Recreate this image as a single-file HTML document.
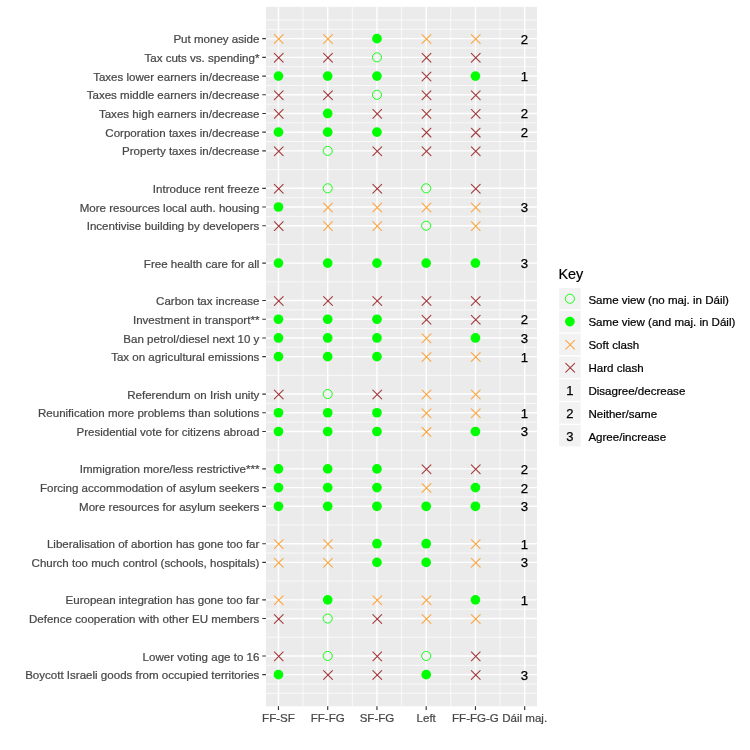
<!DOCTYPE html>
<html lang="en"><head><meta charset="utf-8"><title>Coalition views</title>
<style>html,body{margin:0;padding:0;background:#fff}svg{display:block}text{font-family:"Liberation Sans",Arial,sans-serif}.ax{font-size:11.55px;fill:#474747;stroke:#474747;stroke-width:.22px}.lg{font-size:11.55px;fill:#000;stroke:#000;stroke-width:.22px}.num{font-size:13.2px;fill:#000;stroke:#000;stroke-width:.25px}.ttl{font-size:14.4px;fill:#000;stroke:#000;stroke-width:.2px}</style></head><body>
<svg width="750" height="750" viewBox="0 0 750 750">
<rect width="750" height="750" fill="#fff"/>
<rect x="265.9" y="6.9" width="271.1" height="699.4" fill="#EBEBEB"/>
<path d="M265.9 19.94H537M265.9 29.3H537M265.9 48H537M265.9 66.71H537M265.9 85.41H537M265.9 104.12H537M265.9 122.83H537M265.9 141.53H537M265.9 169.59H537M265.9 197.65H537M265.9 216.36H537M265.9 244.42H537M265.9 281.83H537M265.9 309.89H537M265.9 328.59H537M265.9 347.3H537M265.9 375.36H537M265.9 403.42H537M265.9 422.12H537M265.9 450.18H537M265.9 478.24H537M265.9 496.95H537M265.9 525.01H537M265.9 553.06H537M265.9 581.12H537M265.9 609.18H537M265.9 637.24H537M265.9 665.3H537M265.9 684.01H537M265.9 693.36H537M303.07 6.9V706.3M352.32 6.9V706.3M401.57 6.9V706.3M450.82 6.9V706.3M500.07 6.9V706.3" stroke="#fff" stroke-width="0.7" fill="none"/>
<path d="M265.9 38.65H537M265.9 57.36H537M265.9 76.06H537M265.9 94.77H537M265.9 113.47H537M265.9 132.18H537M265.9 150.89H537M265.9 188.3H537M265.9 207H537M265.9 225.71H537M265.9 263.12H537M265.9 300.53H537M265.9 319.24H537M265.9 337.95H537M265.9 356.65H537M265.9 394.06H537M265.9 412.77H537M265.9 431.48H537M265.9 468.89H537M265.9 487.59H537M265.9 506.3H537M265.9 543.71H537M265.9 562.42H537M265.9 599.83H537M265.9 618.54H537M265.9 655.95H537M265.9 674.65H537M278.45 6.9V706.3M327.7 6.9V706.3M376.95 6.9V706.3M426.2 6.9V706.3M475.45 6.9V706.3M524.7 6.9V706.3" stroke="#fff" stroke-width="1.4" fill="none"/>
<path d="M262.3 38.65H265.9M262.3 57.36H265.9M262.3 76.06H265.9M262.3 94.77H265.9M262.3 113.47H265.9M262.3 132.18H265.9M262.3 150.89H265.9M262.3 188.3H265.9M262.3 207H265.9M262.3 225.71H265.9M262.3 263.12H265.9M262.3 300.53H265.9M262.3 319.24H265.9M262.3 337.95H265.9M262.3 356.65H265.9M262.3 394.06H265.9M262.3 412.77H265.9M262.3 431.48H265.9M262.3 468.89H265.9M262.3 487.59H265.9M262.3 506.3H265.9M262.3 543.71H265.9M262.3 562.42H265.9M262.3 599.83H265.9M262.3 618.54H265.9M262.3 655.95H265.9M262.3 674.65H265.9M278.45 706.3V709.9M327.7 706.3V709.9M376.95 706.3V709.9M426.2 706.3V709.9M475.45 706.3V709.9M524.7 706.3V709.9" stroke="#333" stroke-width="1.15" fill="none"/>
<g>
<path d="M274.35 34.67L283.15 43.47M274.35 43.47L283.15 34.67" stroke="#FBA640" stroke-width="1.08" stroke-linecap="round" fill="none"/>
<path d="M323.6 34.67L332.4 43.47M323.6 43.47L332.4 34.67" stroke="#FBA640" stroke-width="1.08" stroke-linecap="round" fill="none"/>
<circle cx="376.95" cy="38.65" r="4.85" fill="#00FF00"/>
<path d="M422.1 34.67L430.9 43.47M422.1 43.47L430.9 34.67" stroke="#FBA640" stroke-width="1.08" stroke-linecap="round" fill="none"/>
<path d="M471.35 34.67L480.15 43.47M471.35 43.47L480.15 34.67" stroke="#FBA640" stroke-width="1.08" stroke-linecap="round" fill="none"/>
<path d="M274.35 53.38L283.15 62.18M274.35 62.18L283.15 53.38" stroke="#A33B3B" stroke-width="1.08" stroke-linecap="round" fill="none"/>
<path d="M323.6 53.38L332.4 62.18M323.6 62.18L332.4 53.38" stroke="#A33B3B" stroke-width="1.08" stroke-linecap="round" fill="none"/>
<circle cx="376.95" cy="57.36" r="4.55" fill="none" stroke="#00FF00" stroke-width="0.9"/>
<path d="M422.1 53.38L430.9 62.18M422.1 62.18L430.9 53.38" stroke="#A33B3B" stroke-width="1.08" stroke-linecap="round" fill="none"/>
<path d="M471.35 53.38L480.15 62.18M471.35 62.18L480.15 53.38" stroke="#A33B3B" stroke-width="1.08" stroke-linecap="round" fill="none"/>
<circle cx="278.45" cy="76.06" r="4.85" fill="#00FF00"/>
<circle cx="327.7" cy="76.06" r="4.85" fill="#00FF00"/>
<circle cx="376.95" cy="76.06" r="4.85" fill="#00FF00"/>
<path d="M422.1 72.08L430.9 80.88M422.1 80.88L430.9 72.08" stroke="#A33B3B" stroke-width="1.08" stroke-linecap="round" fill="none"/>
<circle cx="475.45" cy="76.06" r="4.85" fill="#00FF00"/>
<path d="M274.35 90.79L283.15 99.59M274.35 99.59L283.15 90.79" stroke="#A33B3B" stroke-width="1.08" stroke-linecap="round" fill="none"/>
<path d="M323.6 90.79L332.4 99.59M323.6 99.59L332.4 90.79" stroke="#A33B3B" stroke-width="1.08" stroke-linecap="round" fill="none"/>
<circle cx="376.95" cy="94.77" r="4.55" fill="none" stroke="#00FF00" stroke-width="0.9"/>
<path d="M422.1 90.79L430.9 99.59M422.1 99.59L430.9 90.79" stroke="#A33B3B" stroke-width="1.08" stroke-linecap="round" fill="none"/>
<path d="M471.35 90.79L480.15 99.59M471.35 99.59L480.15 90.79" stroke="#A33B3B" stroke-width="1.08" stroke-linecap="round" fill="none"/>
<path d="M274.35 109.49L283.15 118.29M274.35 118.29L283.15 109.49" stroke="#A33B3B" stroke-width="1.08" stroke-linecap="round" fill="none"/>
<circle cx="327.7" cy="113.47" r="4.85" fill="#00FF00"/>
<path d="M372.85 109.49L381.65 118.29M372.85 118.29L381.65 109.49" stroke="#A33B3B" stroke-width="1.08" stroke-linecap="round" fill="none"/>
<path d="M422.1 109.49L430.9 118.29M422.1 118.29L430.9 109.49" stroke="#A33B3B" stroke-width="1.08" stroke-linecap="round" fill="none"/>
<path d="M471.35 109.49L480.15 118.29M471.35 118.29L480.15 109.49" stroke="#A33B3B" stroke-width="1.08" stroke-linecap="round" fill="none"/>
<circle cx="278.45" cy="132.18" r="4.85" fill="#00FF00"/>
<circle cx="327.7" cy="132.18" r="4.85" fill="#00FF00"/>
<circle cx="376.95" cy="132.18" r="4.85" fill="#00FF00"/>
<path d="M422.1 128.2L430.9 137M422.1 137L430.9 128.2" stroke="#A33B3B" stroke-width="1.08" stroke-linecap="round" fill="none"/>
<path d="M471.35 128.2L480.15 137M471.35 137L480.15 128.2" stroke="#A33B3B" stroke-width="1.08" stroke-linecap="round" fill="none"/>
<path d="M274.35 146.91L283.15 155.71M274.35 155.71L283.15 146.91" stroke="#A33B3B" stroke-width="1.08" stroke-linecap="round" fill="none"/>
<circle cx="327.7" cy="150.89" r="4.55" fill="none" stroke="#00FF00" stroke-width="0.9"/>
<path d="M372.85 146.91L381.65 155.71M372.85 155.71L381.65 146.91" stroke="#A33B3B" stroke-width="1.08" stroke-linecap="round" fill="none"/>
<path d="M422.1 146.91L430.9 155.71M422.1 155.71L430.9 146.91" stroke="#A33B3B" stroke-width="1.08" stroke-linecap="round" fill="none"/>
<path d="M471.35 146.91L480.15 155.71M471.35 155.71L480.15 146.91" stroke="#A33B3B" stroke-width="1.08" stroke-linecap="round" fill="none"/>
<path d="M274.35 184.32L283.15 193.12M274.35 193.12L283.15 184.32" stroke="#A33B3B" stroke-width="1.08" stroke-linecap="round" fill="none"/>
<circle cx="327.7" cy="188.3" r="4.55" fill="none" stroke="#00FF00" stroke-width="0.9"/>
<path d="M372.85 184.32L381.65 193.12M372.85 193.12L381.65 184.32" stroke="#A33B3B" stroke-width="1.08" stroke-linecap="round" fill="none"/>
<circle cx="426.2" cy="188.3" r="4.55" fill="none" stroke="#00FF00" stroke-width="0.9"/>
<path d="M471.35 184.32L480.15 193.12M471.35 193.12L480.15 184.32" stroke="#A33B3B" stroke-width="1.08" stroke-linecap="round" fill="none"/>
<circle cx="278.45" cy="207" r="4.85" fill="#00FF00"/>
<path d="M323.6 203.02L332.4 211.82M323.6 211.82L332.4 203.02" stroke="#FBA640" stroke-width="1.08" stroke-linecap="round" fill="none"/>
<path d="M372.85 203.02L381.65 211.82M372.85 211.82L381.65 203.02" stroke="#FBA640" stroke-width="1.08" stroke-linecap="round" fill="none"/>
<path d="M422.1 203.02L430.9 211.82M422.1 211.82L430.9 203.02" stroke="#FBA640" stroke-width="1.08" stroke-linecap="round" fill="none"/>
<path d="M471.35 203.02L480.15 211.82M471.35 211.82L480.15 203.02" stroke="#FBA640" stroke-width="1.08" stroke-linecap="round" fill="none"/>
<path d="M274.35 221.73L283.15 230.53M274.35 230.53L283.15 221.73" stroke="#A33B3B" stroke-width="1.08" stroke-linecap="round" fill="none"/>
<path d="M323.6 221.73L332.4 230.53M323.6 230.53L332.4 221.73" stroke="#FBA640" stroke-width="1.08" stroke-linecap="round" fill="none"/>
<path d="M372.85 221.73L381.65 230.53M372.85 230.53L381.65 221.73" stroke="#FBA640" stroke-width="1.08" stroke-linecap="round" fill="none"/>
<circle cx="426.2" cy="225.71" r="4.55" fill="none" stroke="#00FF00" stroke-width="0.9"/>
<path d="M471.35 221.73L480.15 230.53M471.35 230.53L480.15 221.73" stroke="#FBA640" stroke-width="1.08" stroke-linecap="round" fill="none"/>
<circle cx="278.45" cy="263.12" r="4.85" fill="#00FF00"/>
<circle cx="327.7" cy="263.12" r="4.85" fill="#00FF00"/>
<circle cx="376.95" cy="263.12" r="4.85" fill="#00FF00"/>
<circle cx="426.2" cy="263.12" r="4.85" fill="#00FF00"/>
<circle cx="475.45" cy="263.12" r="4.85" fill="#00FF00"/>
<path d="M274.35 296.55L283.15 305.35M274.35 305.35L283.15 296.55" stroke="#A33B3B" stroke-width="1.08" stroke-linecap="round" fill="none"/>
<path d="M323.6 296.55L332.4 305.35M323.6 305.35L332.4 296.55" stroke="#A33B3B" stroke-width="1.08" stroke-linecap="round" fill="none"/>
<path d="M372.85 296.55L381.65 305.35M372.85 305.35L381.65 296.55" stroke="#A33B3B" stroke-width="1.08" stroke-linecap="round" fill="none"/>
<path d="M422.1 296.55L430.9 305.35M422.1 305.35L430.9 296.55" stroke="#A33B3B" stroke-width="1.08" stroke-linecap="round" fill="none"/>
<path d="M471.35 296.55L480.15 305.35M471.35 305.35L480.15 296.55" stroke="#A33B3B" stroke-width="1.08" stroke-linecap="round" fill="none"/>
<circle cx="278.45" cy="319.24" r="4.85" fill="#00FF00"/>
<circle cx="327.7" cy="319.24" r="4.85" fill="#00FF00"/>
<circle cx="376.95" cy="319.24" r="4.85" fill="#00FF00"/>
<path d="M422.1 315.26L430.9 324.06M422.1 324.06L430.9 315.26" stroke="#A33B3B" stroke-width="1.08" stroke-linecap="round" fill="none"/>
<path d="M471.35 315.26L480.15 324.06M471.35 324.06L480.15 315.26" stroke="#A33B3B" stroke-width="1.08" stroke-linecap="round" fill="none"/>
<circle cx="278.45" cy="337.95" r="4.85" fill="#00FF00"/>
<circle cx="327.7" cy="337.95" r="4.85" fill="#00FF00"/>
<circle cx="376.95" cy="337.95" r="4.85" fill="#00FF00"/>
<path d="M422.1 333.97L430.9 342.77M422.1 342.77L430.9 333.97" stroke="#FBA640" stroke-width="1.08" stroke-linecap="round" fill="none"/>
<circle cx="475.45" cy="337.95" r="4.85" fill="#00FF00"/>
<circle cx="278.45" cy="356.65" r="4.85" fill="#00FF00"/>
<circle cx="327.7" cy="356.65" r="4.85" fill="#00FF00"/>
<circle cx="376.95" cy="356.65" r="4.85" fill="#00FF00"/>
<path d="M422.1 352.67L430.9 361.47M422.1 361.47L430.9 352.67" stroke="#FBA640" stroke-width="1.08" stroke-linecap="round" fill="none"/>
<path d="M471.35 352.67L480.15 361.47M471.35 361.47L480.15 352.67" stroke="#FBA640" stroke-width="1.08" stroke-linecap="round" fill="none"/>
<path d="M274.35 390.08L283.15 398.88M274.35 398.88L283.15 390.08" stroke="#A33B3B" stroke-width="1.08" stroke-linecap="round" fill="none"/>
<circle cx="327.7" cy="394.06" r="4.55" fill="none" stroke="#00FF00" stroke-width="0.9"/>
<path d="M372.85 390.08L381.65 398.88M372.85 398.88L381.65 390.08" stroke="#A33B3B" stroke-width="1.08" stroke-linecap="round" fill="none"/>
<path d="M422.1 390.08L430.9 398.88M422.1 398.88L430.9 390.08" stroke="#FBA640" stroke-width="1.08" stroke-linecap="round" fill="none"/>
<path d="M471.35 390.08L480.15 398.88M471.35 398.88L480.15 390.08" stroke="#FBA640" stroke-width="1.08" stroke-linecap="round" fill="none"/>
<circle cx="278.45" cy="412.77" r="4.85" fill="#00FF00"/>
<circle cx="327.7" cy="412.77" r="4.85" fill="#00FF00"/>
<circle cx="376.95" cy="412.77" r="4.85" fill="#00FF00"/>
<path d="M422.1 408.79L430.9 417.59M422.1 417.59L430.9 408.79" stroke="#FBA640" stroke-width="1.08" stroke-linecap="round" fill="none"/>
<path d="M471.35 408.79L480.15 417.59M471.35 417.59L480.15 408.79" stroke="#FBA640" stroke-width="1.08" stroke-linecap="round" fill="none"/>
<circle cx="278.45" cy="431.48" r="4.85" fill="#00FF00"/>
<circle cx="327.7" cy="431.48" r="4.85" fill="#00FF00"/>
<circle cx="376.95" cy="431.48" r="4.85" fill="#00FF00"/>
<path d="M422.1 427.5L430.9 436.3M422.1 436.3L430.9 427.5" stroke="#FBA640" stroke-width="1.08" stroke-linecap="round" fill="none"/>
<circle cx="475.45" cy="431.48" r="4.85" fill="#00FF00"/>
<circle cx="278.45" cy="468.89" r="4.85" fill="#00FF00"/>
<circle cx="327.7" cy="468.89" r="4.85" fill="#00FF00"/>
<circle cx="376.95" cy="468.89" r="4.85" fill="#00FF00"/>
<path d="M422.1 464.91L430.9 473.71M422.1 473.71L430.9 464.91" stroke="#A33B3B" stroke-width="1.08" stroke-linecap="round" fill="none"/>
<path d="M471.35 464.91L480.15 473.71M471.35 473.71L480.15 464.91" stroke="#A33B3B" stroke-width="1.08" stroke-linecap="round" fill="none"/>
<circle cx="278.45" cy="487.59" r="4.85" fill="#00FF00"/>
<circle cx="327.7" cy="487.59" r="4.85" fill="#00FF00"/>
<circle cx="376.95" cy="487.59" r="4.85" fill="#00FF00"/>
<path d="M422.1 483.61L430.9 492.41M422.1 492.41L430.9 483.61" stroke="#FBA640" stroke-width="1.08" stroke-linecap="round" fill="none"/>
<circle cx="475.45" cy="487.59" r="4.85" fill="#00FF00"/>
<circle cx="278.45" cy="506.3" r="4.85" fill="#00FF00"/>
<circle cx="327.7" cy="506.3" r="4.85" fill="#00FF00"/>
<circle cx="376.95" cy="506.3" r="4.85" fill="#00FF00"/>
<circle cx="426.2" cy="506.3" r="4.85" fill="#00FF00"/>
<circle cx="475.45" cy="506.3" r="4.85" fill="#00FF00"/>
<path d="M274.35 539.73L283.15 548.53M274.35 548.53L283.15 539.73" stroke="#FBA640" stroke-width="1.08" stroke-linecap="round" fill="none"/>
<path d="M323.6 539.73L332.4 548.53M323.6 548.53L332.4 539.73" stroke="#FBA640" stroke-width="1.08" stroke-linecap="round" fill="none"/>
<circle cx="376.95" cy="543.71" r="4.85" fill="#00FF00"/>
<circle cx="426.2" cy="543.71" r="4.85" fill="#00FF00"/>
<path d="M471.35 539.73L480.15 548.53M471.35 548.53L480.15 539.73" stroke="#FBA640" stroke-width="1.08" stroke-linecap="round" fill="none"/>
<path d="M274.35 558.44L283.15 567.24M274.35 567.24L283.15 558.44" stroke="#FBA640" stroke-width="1.08" stroke-linecap="round" fill="none"/>
<path d="M323.6 558.44L332.4 567.24M323.6 567.24L332.4 558.44" stroke="#FBA640" stroke-width="1.08" stroke-linecap="round" fill="none"/>
<circle cx="376.95" cy="562.42" r="4.85" fill="#00FF00"/>
<circle cx="426.2" cy="562.42" r="4.85" fill="#00FF00"/>
<path d="M471.35 558.44L480.15 567.24M471.35 567.24L480.15 558.44" stroke="#FBA640" stroke-width="1.08" stroke-linecap="round" fill="none"/>
<path d="M274.35 595.85L283.15 604.65M274.35 604.65L283.15 595.85" stroke="#FBA640" stroke-width="1.08" stroke-linecap="round" fill="none"/>
<circle cx="327.7" cy="599.83" r="4.85" fill="#00FF00"/>
<path d="M372.85 595.85L381.65 604.65M372.85 604.65L381.65 595.85" stroke="#FBA640" stroke-width="1.08" stroke-linecap="round" fill="none"/>
<path d="M422.1 595.85L430.9 604.65M422.1 604.65L430.9 595.85" stroke="#FBA640" stroke-width="1.08" stroke-linecap="round" fill="none"/>
<circle cx="475.45" cy="599.83" r="4.85" fill="#00FF00"/>
<path d="M274.35 614.56L283.15 623.36M274.35 623.36L283.15 614.56" stroke="#A33B3B" stroke-width="1.08" stroke-linecap="round" fill="none"/>
<circle cx="327.7" cy="618.54" r="4.55" fill="none" stroke="#00FF00" stroke-width="0.9"/>
<path d="M372.85 614.56L381.65 623.36M372.85 623.36L381.65 614.56" stroke="#A33B3B" stroke-width="1.08" stroke-linecap="round" fill="none"/>
<path d="M422.1 614.56L430.9 623.36M422.1 623.36L430.9 614.56" stroke="#FBA640" stroke-width="1.08" stroke-linecap="round" fill="none"/>
<path d="M471.35 614.56L480.15 623.36M471.35 623.36L480.15 614.56" stroke="#FBA640" stroke-width="1.08" stroke-linecap="round" fill="none"/>
<path d="M274.35 651.97L283.15 660.77M274.35 660.77L283.15 651.97" stroke="#A33B3B" stroke-width="1.08" stroke-linecap="round" fill="none"/>
<circle cx="327.7" cy="655.95" r="4.55" fill="none" stroke="#00FF00" stroke-width="0.9"/>
<path d="M372.85 651.97L381.65 660.77M372.85 660.77L381.65 651.97" stroke="#A33B3B" stroke-width="1.08" stroke-linecap="round" fill="none"/>
<circle cx="426.2" cy="655.95" r="4.55" fill="none" stroke="#00FF00" stroke-width="0.9"/>
<path d="M471.35 651.97L480.15 660.77M471.35 660.77L480.15 651.97" stroke="#A33B3B" stroke-width="1.08" stroke-linecap="round" fill="none"/>
<circle cx="278.45" cy="674.65" r="4.85" fill="#00FF00"/>
<path d="M323.6 670.67L332.4 679.47M323.6 679.47L332.4 670.67" stroke="#A33B3B" stroke-width="1.08" stroke-linecap="round" fill="none"/>
<path d="M372.85 670.67L381.65 679.47M372.85 679.47L381.65 670.67" stroke="#A33B3B" stroke-width="1.08" stroke-linecap="round" fill="none"/>
<circle cx="426.2" cy="674.65" r="4.85" fill="#00FF00"/>
<path d="M471.35 670.67L480.15 679.47M471.35 679.47L480.15 670.67" stroke="#A33B3B" stroke-width="1.08" stroke-linecap="round" fill="none"/>
</g>
<g class="num" text-anchor="middle">
<text x="524.35" y="43.65">2</text>
<text x="524.35" y="81.06">1</text>
<text x="524.35" y="118.47">2</text>
<text x="524.35" y="137.18">2</text>
<text x="524.35" y="212">3</text>
<text x="524.35" y="268.12">3</text>
<text x="524.35" y="324.24">2</text>
<text x="524.35" y="342.95">3</text>
<text x="524.35" y="361.65">1</text>
<text x="524.35" y="417.77">1</text>
<text x="524.35" y="436.48">3</text>
<text x="524.35" y="473.89">2</text>
<text x="524.35" y="492.59">2</text>
<text x="524.35" y="511.3">3</text>
<text x="524.35" y="548.71">1</text>
<text x="524.35" y="567.42">3</text>
<text x="524.35" y="604.83">1</text>
<text x="524.35" y="679.65">3</text>
</g>
<g class="ax" text-anchor="end">
<text x="259.4" y="43.25">Put money aside</text>
<text x="259.4" y="61.96">Tax cuts vs. spending*</text>
<text x="259.4" y="80.66">Taxes lower earners in/decrease</text>
<text x="259.4" y="99.37">Taxes middle earners in/decrease</text>
<text x="259.4" y="118.07">Taxes high earners in/decrease</text>
<text x="259.4" y="136.78">Corporation taxes in/decrease</text>
<text x="259.4" y="155.49">Property taxes in/decrease</text>
<text x="259.4" y="192.9">Introduce rent freeze</text>
<text x="259.4" y="211.6">More resources local auth. housing</text>
<text x="259.4" y="230.31">Incentivise building by developers</text>
<text x="259.4" y="267.72">Free health care for all</text>
<text x="259.4" y="305.13">Carbon tax increase</text>
<text x="259.4" y="323.84">Investment in transport**</text>
<text x="259.4" y="342.55">Ban petrol/diesel next 10 y</text>
<text x="259.4" y="361.25">Tax on agricultural emissions</text>
<text x="259.4" y="398.66">Referendum on Irish unity</text>
<text x="259.4" y="417.37">Reunification more problems than solutions</text>
<text x="259.4" y="436.08">Presidential vote for citizens abroad</text>
<text x="259.4" y="473.49">Immigration more/less restrictive***</text>
<text x="259.4" y="492.19">Forcing accommodation of asylum seekers</text>
<text x="259.4" y="510.9">More resources for asylum seekers</text>
<text x="259.4" y="548.31">Liberalisation of abortion has gone too far</text>
<text x="259.4" y="567.02">Church too much control (schools, hospitals)</text>
<text x="259.4" y="604.43">European integration has gone too far</text>
<text x="259.4" y="623.14">Defence cooperation with other EU members</text>
<text x="259.4" y="660.55">Lower voting age to 16</text>
<text x="259.4" y="679.25">Boycott Israeli goods from occupied territories</text>
</g>
<g class="ax" text-anchor="middle">
<text x="278.45" y="721.6">FF-SF</text>
<text x="327.7" y="721.6">FF-FG</text>
<text x="376.95" y="721.6">SF-FG</text>
<text x="426.2" y="721.6">Left</text>
<text x="475.45" y="721.6">FF-FG-G</text>
<text x="524.7" y="721.6">Dáil maj.</text>
</g>
<text class="ttl" x="558.5" y="279">Key</text>
<rect x="559.1" y="288" width="21.6" height="21.45" fill="#F2F2F2"/>
<circle cx="569.9" cy="298.73" r="4.55" fill="none" stroke="#00FF00" stroke-width="0.9"/>
<text class="lg" x="588.4" y="303.58">Same view (no maj. in Dáil)</text>
<rect x="559.1" y="310.84" width="21.6" height="21.45" fill="#F2F2F2"/>
<circle cx="569.9" cy="321.56" r="4.85" fill="#00FF00"/>
<text class="lg" x="588.4" y="326.42">Same view (and maj. in Dáil)</text>
<rect x="559.1" y="333.68" width="21.6" height="21.45" fill="#F2F2F2"/>
<path d="M565.8 340.43L574.6 349.23M565.8 349.23L574.6 340.43" stroke="#FBA640" stroke-width="1.08" stroke-linecap="round" fill="none"/>
<text class="lg" x="588.4" y="349.26">Soft clash</text>
<rect x="559.1" y="356.52" width="21.6" height="21.45" fill="#F2F2F2"/>
<path d="M565.8 363.27L574.6 372.06M565.8 372.06L574.6 363.27" stroke="#A33B3B" stroke-width="1.08" stroke-linecap="round" fill="none"/>
<text class="lg" x="588.4" y="372.1">Hard clash</text>
<rect x="559.1" y="379.36" width="21.6" height="21.45" fill="#F2F2F2"/>
<text class="num" style="font-size:13px" text-anchor="middle" x="569.9" y="395.39">1</text>
<text class="lg" x="588.4" y="394.94">Disagree/decrease</text>
<rect x="559.1" y="402.2" width="21.6" height="21.45" fill="#F2F2F2"/>
<text class="num" style="font-size:13px" text-anchor="middle" x="569.9" y="418.23">2</text>
<text class="lg" x="588.4" y="417.78">Neither/same</text>
<rect x="559.1" y="425.04" width="21.6" height="21.45" fill="#F2F2F2"/>
<text class="num" style="font-size:13px" text-anchor="middle" x="569.9" y="441.06">3</text>
<text class="lg" x="588.4" y="440.62">Agree/increase</text>
</svg></body></html>
